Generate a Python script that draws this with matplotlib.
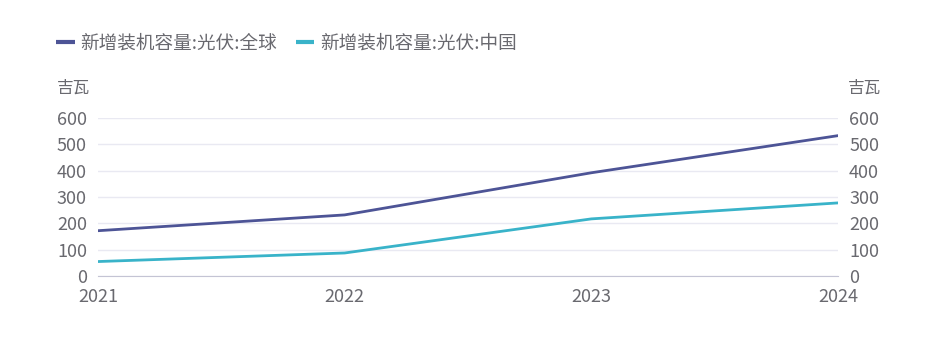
import matplotlib
matplotlib.use("Agg")
import matplotlib.pyplot as plt

plt.rcParams['font.family'] = ['Noto Sans CJK SC', 'DejaVu Sans']

years = ["2021", "2022", "2023", "2024"]
global_pv = [172, 232, 392, 533]
china_pv = [54.88, 87.41, 216.88, 277.57]
series_names = ["新增装机容量:光伏:全球", "新增装机容量:光伏:中国"]
unit = "吉瓦"
yticks = [0, 100, 200, 300, 400, 500, 600]

TEXT = "#69696f"
GRID = "#e9e9f2"

fig = plt.figure(figsize=(9.37, 3.39), dpi=100)
ax = fig.add_axes([98 / 937, 63 / 339, 740 / 937, 158 / 339])

x = list(range(len(years)))
l1, = ax.plot(x, global_pv, color="#4d5496", lw=2, solid_capstyle="round")
l2, = ax.plot(x, china_pv, color="#39b3c9", lw=2, solid_capstyle="round")

ax.set_xlim(0, len(years) - 1)
ax.set_ylim(0, 600)
ax.set_xticks(x)
ax.set_xticklabels(years)
ax.set_yticks(yticks)
ax.grid(axis="y", color=GRID, lw=1)
ax.set_axisbelow(True)
for s in ["top", "right", "left"]:
    ax.spines[s].set_visible(False)
ax.spines["bottom"].set_color("#c4c4d4")
ax.tick_params(axis="x", length=0, pad=9, labelsize=13, labelcolor=TEXT)
ax.tick_params(axis="y", length=0, pad=8, labelsize=13, labelcolor=TEXT,
               labelright=True)

# unit labels above both y axes
fig.text(57 / 937, 1 - 88 / 339, unit, ha="left", va="center", fontsize=12, color=TEXT)
fig.text(881 / 937, 1 - 88 / 339, unit, ha="right", va="center", fontsize=12, color=TEXT)

fig.legend([l1, l2], series_names, loc="center left",
           bbox_to_anchor=(56 / 937, 1 - 44 / 339), ncol=2, frameon=False,
           handlelength=1.0, handletextpad=0.3, columnspacing=1.0,
           fontsize=13.4, labelcolor=TEXT, borderaxespad=0, borderpad=0)
for h in fig.legends[0].legend_handles:
    h.set_linewidth(3)
    h.set_solid_capstyle("butt")

fig.savefig("out.png", dpi=100, facecolor="white")
